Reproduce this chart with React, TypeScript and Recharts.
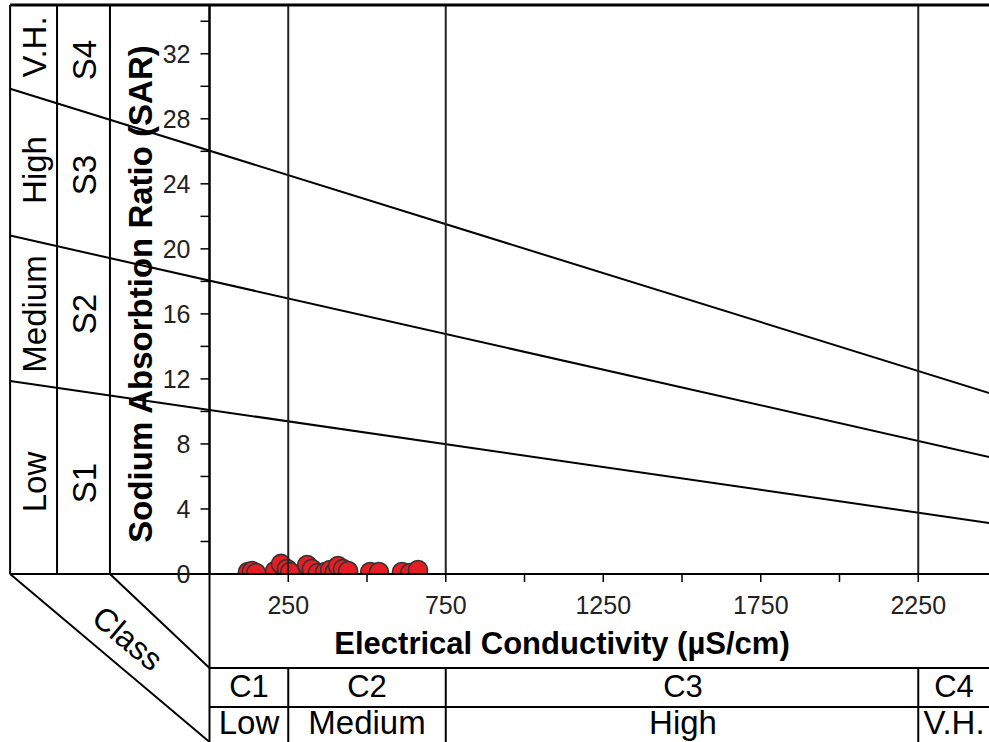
import React from 'react';
import { ScatterChart, Scatter, XAxis, YAxis, ReferenceLine } from 'recharts';

// Sample data: Electrical Conductivity (µS/cm) and SAR
const ecValues = [122, 135, 148, 208, 227, 246, 256, 310, 325, 344, 367, 383, 398, 408, 424, 440, 510, 538, 611, 637, 662];
const sarValues = [0.12, 0.18, 0.06, 0.18, 0.62, 0.31, 0.12, 0.55, 0.31, 0.06, 0.12, 0.25, 0.12, 0.49, 0.31, 0.18, 0.12, 0.12, 0.12, 0.06, 0.25];

// Axis ticks
const xTicks = [250, 500, 750, 1000, 1250, 1500, 1750, 2000, 2250, 2500];
const xLabelTicks = [250, 750, 1250, 1750, 2250];
const yTicks = [0, 2, 4, 6, 8, 10, 12, 14, 16, 18, 20, 22, 24, 26, 28, 30, 32, 34];

// Salinity class boundaries (EC)
const ecClassBounds = [250, 750, 2250];

// Sodium hazard boundary lines: SAR at the left frame edge and at EC = 2500
const frameLeftEC = -633;
const frameRightEC = 2500;
const sarBoundLeft = [11.87, 20.82, 29.85];
const sarBoundRight = [3.07, 7.09, 10.98];

// Table geometry expressed in chart units
const colBoundsEC = [-484, -316];
const tableRowsSAR = [-5.78, -8.18];
const tableBottomSAR = -10.6;
const sarMax = 35;

const cRowLabels = ['C1', 'C2', 'C3', 'C4'];
const cClassLabels = ['Low', 'Medium', 'High', 'V.H.'];
const sClassLabels = ['S1', 'S2', 'S3', 'S4'];
const sHazardLabels = ['Low', 'Medium', 'High', 'V.H.'];

const points = ecValues.map((ec, i) => ({ ec, sar: sarValues[i] }));

const FONT = '"Liberation Sans", Arial, Helvetica, sans-serif';

const renderDot = (p: any) => (
  <circle cx={p.cx} cy={p.cy} r={9.5} fill="#E41E24" stroke="#333" strokeWidth={1.6} />
);

const seg = (x1: number, y1: number, x2: number, y2: number, key: string, w = 2, color = '#000') => (
  <ReferenceLine
    key={key}
    segment={[{ x: x1, y: y1 }, { x: x2, y: y2 }]}
    stroke={color}
    strokeWidth={w}
    ifOverflow="visible"
    zIndex={1000}
  />
);

export default function App() {
  const lines: any[] = [];
  // boundary (sodium hazard) lines
  sarBoundLeft.forEach((l, i) => lines.push(seg(frameLeftEC, l, frameRightEC, sarBoundRight[i], 'b' + i, 2)));
  // salinity class vertical lines in plot
  ecClassBounds.forEach((e, i) => lines.push(seg(e, 0, e, sarMax, 'v' + i, 2, '#222')));
  // frame
  lines.push(seg(frameLeftEC, sarMax, frameRightEC, sarMax, 'top', 3));
  lines.push(seg(frameLeftEC, 0, frameLeftEC, sarMax, 'left', 2));
  colBoundsEC.forEach((c, i) => lines.push(seg(c, 0, c, sarMax, 'c' + i, 2)));
  lines.push(seg(frameLeftEC, 0, frameRightEC, 0, 'base', 2));
  lines.push(seg(0, tableBottomSAR, 0, sarMax, 'yax', 2));
  // class diagonals
  lines.push(seg(frameLeftEC, 0, 0, -10.33, 'd1', 2));
  lines.push(seg(colBoundsEC[1], 0, 0, tableRowsSAR[0], 'd2', 2));
  // bottom table
  tableRowsSAR.forEach((r, i) => lines.push(seg(0, r, frameRightEC, r, 'r' + i, 2)));
  ecClassBounds.forEach((e, i) => lines.push(seg(e, tableRowsSAR[0], e, tableBottomSAR, 't' + i, 2)));

  const cX = [249, 367, 683, 954];
  const leftY = [482, 314, 170, 47];
  const sY = [483, 314, 175, 60];

  return (
    <div style={{ position: 'absolute', left: 0, top: 0, width: 989, height: 742, overflow: 'hidden', background: '#fff' }}>
      <ScatterChart width={1000} height={742} margin={{ top: 5, right: 3, bottom: 128, left: 149.5 }}>
        <XAxis
          type="number"
          dataKey="ec"
          domain={[0, 2500]}
          ticks={xTicks}
          interval={0}
          allowDataOverflow
          tickFormatter={(v: number) => (xLabelTicks.includes(v) ? String(v) : '')}
          tickSize={8}
          tickMargin={14}
          height={40}
          axisLine={{ stroke: '#000', strokeWidth: 2 }}
          tickLine={{ stroke: '#000', strokeWidth: 1.5 }}
          tick={{ fontSize: 25, fill: '#222', fontFamily: FONT }}
        />
        <YAxis
          type="number"
          dataKey="sar"
          domain={[0, sarMax]}
          ticks={yTicks}
          interval={0}
          allowDataOverflow
          tickFormatter={(v: number) => (v % 4 === 0 ? String(v) : '')}
          tickSize={9}
          tickMargin={10}
          width={60}
          axisLine={{ stroke: '#000', strokeWidth: 2 }}
          tickLine={{ stroke: '#000', strokeWidth: 1.5 }}
          tick={{ fontSize: 25, fill: '#222', fontFamily: FONT }}
        />
        <Scatter data={points} isAnimationActive={false} shape={renderDot} fill="#E41E24" />
        {lines}
      </ScatterChart>
      <svg
        width={989}
        height={742}
        style={{ position: 'absolute', left: 0, top: 0, pointerEvents: 'none' }}
        fontFamily={FONT}
      >
        {sHazardLabels.map((t, i) => (
          <text key={'h' + i} x={34} y={leftY[i]} dy="0.36em" textAnchor="middle" fontSize={33}
            transform={`rotate(-90 34 ${leftY[i]})`} fill="#000">{t}</text>
        ))}
        {sClassLabels.map((t, i) => (
          <text key={'s' + i} x={84} y={sY[i]} dy="0.36em" textAnchor="middle" fontSize={33}
            transform={`rotate(-90 84 ${sY[i]})`} fill="#000">{t}</text>
        ))}
        <text x={140} y={294} dy="0.36em" textAnchor="middle" fontSize={33} fontWeight="bold"
          transform="rotate(-90 140 294)" fill="#000">Sodium Absorbtion Ratio (SAR)</text>
        <text x={562} y={643} dy="0.36em" textAnchor="middle" fontSize={31} fontWeight="bold" fill="#000">
          Electrical Conductivity (µS/cm)
        </text>
        <text x={128} y={638} dy="0.36em" textAnchor="middle" fontSize={32} transform="rotate(40 128 638)" fill="#000">
          Class
        </text>
        {cRowLabels.map((t, i) => (
          <text key={'cr' + i} x={cX[i]} y={697} textAnchor="middle" fontSize={31} fill="#000">{t}</text>
        ))}
        {cClassLabels.map((t, i) => (
          <text key={'cc' + i} x={cX[i]} y={734} textAnchor="middle" fontSize={33} fill="#000">{t}</text>
        ))}
      </svg>
    </div>
  );
}
